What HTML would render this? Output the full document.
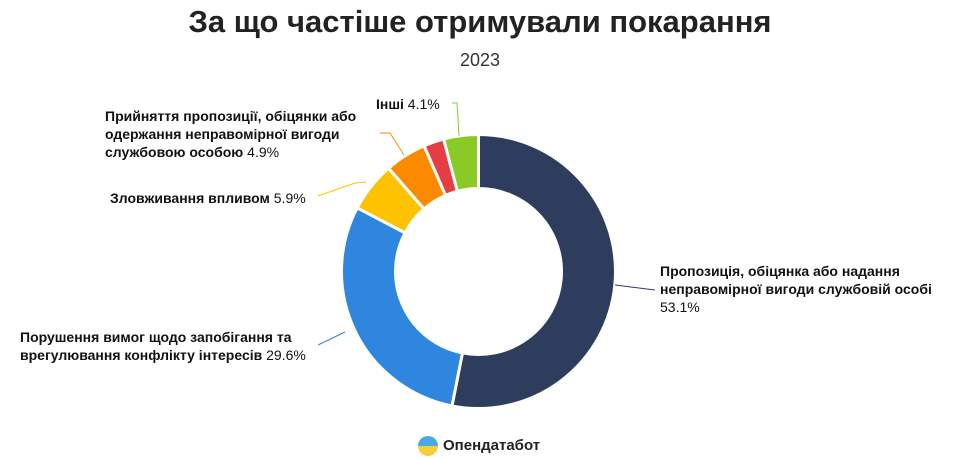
<!DOCTYPE html>
<html><head><meta charset="utf-8"><style>
body{margin:0;width:960px;height:458px;background:#fff;overflow:hidden;font-family:"Liberation Sans","DejaVu Sans",sans-serif;}
.t{position:absolute;left:0;width:960px;text-align:center;}
.l{position:absolute;font-size:14px;line-height:18px;color:#111;}
.l b{font-weight:bold}
</style></head><body>
<div class="t" style="top:4px;font-size:31px;font-weight:bold;color:#222;">За що частіше отримували покарання</div>
<div class="t" style="top:50px;font-size:18px;color:#333;">2023</div>
<svg id="s" width="960" height="458" style="position:absolute;left:0;top:0"></svg>
<div class="l" style="left:376px;top:95px"><b>Інші</b> 4.1%</div>
<div class="l" style="left:105px;top:107px"><b>Прийняття пропозиції, обіцянки або<br>одержання неправомірної вигоди<br>службовою особою</b> 4.9%</div>
<div class="l" style="left:110px;top:189px"><b>Зловживання впливом</b> 5.9%</div>
<div class="l" style="left:660px;top:262px"><b>Пропозиція, обіцянка або надання<br>неправомірної вигоди службовій особі</b><br>53.1%</div>
<div class="l" style="left:20px;top:328px"><b>Порушення вимог щодо запобігання та<br>врегулювання конфлікту інтересів</b> 29.6%</div>
<div style="position:absolute;left:418px;top:436px;width:20px;height:20px;border-radius:50%;background:linear-gradient(#4aa8e8 50%,#f5cf3a 50%)"></div>
<div class="l" style="left:443px;top:437px;font-size:15px;font-weight:bold;color:#222">Опендатабот</div>
<script>
var s=document.getElementById('s'),cx=478.5,cy=271.5,R=137,r=83;
var d=[[53.1,'#2e3c5e'],[29.6,'#2e86de'],[5.9,'#fdc300'],[4.9,'#fb8a00'],[2.4,'#e63c44'],[4.1,'#8ac926']];
var a=0,h='';
function p(an,rr){var t=an/100*2*Math.PI;return (cx+rr*Math.sin(t)).toFixed(2)+' '+(cy-rr*Math.cos(t)).toFixed(2);}
d.forEach(function(x){var b=a+x[0],lg=x[0]>50?1:0;
h+='<path d="M'+p(a,R)+'A'+R+' '+R+' 0 '+lg+' 1 '+p(b,R)+'L'+p(b,r)+'A'+r+' '+r+' 0 '+lg+' 0 '+p(a,r)+'Z" fill="'+x[1]+'" stroke="#fff" stroke-width="3" stroke-linejoin="round"/>';a=b;});
h+='<polyline points="615,285 655,290" fill="none" stroke="#2e3c5e"/>';
h+='<polyline points="345,332 318,345" fill="none" stroke="#2e86de"/>';
h+='<polyline points="366,182 355,183 318,196" fill="none" stroke="#fdc300"/>';
h+='<polyline points="404,155 390,133 380,133" fill="none" stroke="#fb8a00"/>';
h+='<polyline points="459,136 457,103 452,103" fill="none" stroke="#8ac926"/>';
s.innerHTML=h;
</script>
</body></html>
